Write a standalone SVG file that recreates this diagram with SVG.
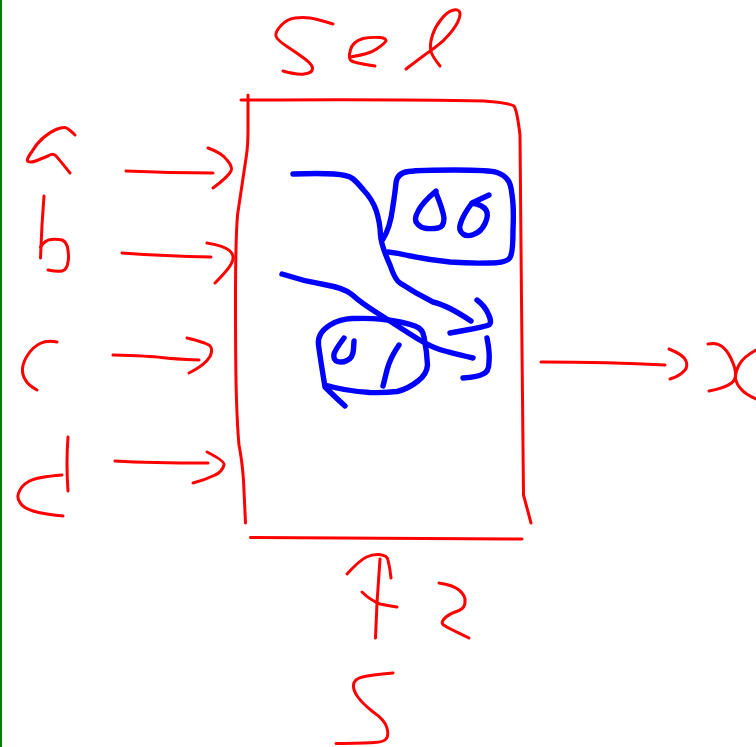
<svg xmlns="http://www.w3.org/2000/svg" width="756" height="747" viewBox="0 0 756 747">
<style>
path{fill:none;stroke-linecap:round;stroke-linejoin:round}
.r{stroke:#ff0000;stroke-width:3}
.b{stroke:#0000ff;stroke-width:5.4}
.edge{stroke:#008000;stroke-width:2;stroke-linecap:butt}
</style>
<rect width="756" height="747" fill="#ffffff"/>
<path class="edge" d="M1 0V747"/>
<g id="label-sel" class="r">
<path d="M333 24Q317 19 310 18Q303 17 295 18Q287 19 281 25.500Q275 32 276 36Q277 40 287 46.500Q297 53 305 59Q313 65 312.500 69Q312 73 304 74Q297 75 283 71"/>
<path d="M350 57Q370 54 376.500 49Q384 44 386 41Q386 38 380 37.500Q370 37 363 38.500Q352 42 350.500 50Q348 58 351 60.500Q354 63 375 66"/>
<path d="M406 69Q427 53 435 47.500Q443 42 450 33.500Q457 25 459 19Q461 13 459 11Q457 9 452 10.500Q447 12 441 19.500Q435 27 432.500 35Q430 43 430.500 49Q431 55 440 66"/>
</g>
<g id="node-box" class="r">
<path d="M241 100Q400 99 484 101Q510 103 514 106Q517 110 520 135L521.500 300L523.500 495L531 523"/>
<path d="M248 95L248 130Q248 145 246.500 155L237.500 215Q235.500 240 235.500 300Q235.500 370 236.500 400Q237.500 430 239 445Q242 460 243.500 480L245.500 523"/>
<path d="M250.500 537.500L522 539"/>
</g>
<g id="label-a" class="r"><path d="M75 135Q68 128 65 127.500Q62 127 56 129.500Q50 132 43.500 137.500Q37 143 32 151.500Q25 161 28.500 161.500Q31 163 37 160.500Q43 158 48 156Q53 153 55.500 155.500Q58 158 70 173"/></g>
<g id="label-b" class="r"><path d="M44 196L42 225L40.500 258"/><path d="M40.500 247Q45 240 51 239.500Q57 239 62 240Q67 242 68 250Q69 258 68 262Q67 270 62 271Q58 272 48 270"/></g>
<g id="label-c" class="r"><path d="M57 342Q47 340 40 343.500Q33 347 28 354.500Q23 362 22.500 368.500Q22 375 25.500 380Q28 385 37 390"/></g>
<g id="label-d" class="r"><path d="M68 437Q66 463 68 491"/><path d="M62 475Q37 477 29.500 481Q22 485 19.500 491Q16 497 20 502.500Q23 508 33 511Q43 514 63 516"/></g>
<g id="node-logic" class="b">
<path d="M293 174Q320 173 334 174Q348 175 352.500 178.500Q357 182 363.500 190Q372 199 376 210Q380 222 380.500 235Q381 245 390 265Q395 280 400 283Q415 293 433 302Q447 305 471 321"/>
<path d="M383 239Q390 228 392.500 209Q395 193 396 183Q397 173 408.500 171.500Q420 170 455 170Q490 170 497 172.500Q504 175 507 179Q511 183 512 195Q514 207 513 230Q513 253 510 257.500Q507 263 488.500 263Q470 263.500 450 262Q430 260 408 255.500Q398 253 388 252"/>
<path d="M436 191Q422 203 418.500 210.500Q413 220 417.500 224Q421 228 426.500 228.500Q433 229 438 228Q444 227 444 218Q443 210 436 193"/>
<path d="M489 195L472 203Q483 205 486 210Q489 215 485 223.500Q481 232 473.500 234.500Q467 237 463 234Q458 230 460.500 223.500Q463 215 472 203"/>
<path d="M477 300Q485 306 488.500 314.500Q493 324 487.500 325.500Q483 327 466.500 330Q450 333 450 333"/>
<path d="M282 274Q303 281 324 284.500Q345 288 352.500 295Q360 302 376.500 312.500Q393 323 410 334Q427 345 437 348.500Q447 352 473 358"/>
<path d="M345 406Q333 395 325 387Q321 363 318.500 345Q317 333 330 325Q340 319 352 318.500Q370 318 380 319Q405 322 415 326Q423 329 424 337Q427 352 427.500 365Q427 374 418 381Q408 389 397 391.500Q385 393 370 392.500Q345 391 325 385"/>
<path d="M344 338Q335 350 334 354Q333 360 337.500 361.500Q342 363 347 360.500Q353 358 353.500 349Q354 341 354 341"/>
<path d="M399 345Q390 358 387 370Q385 378 383 386"/>
<path d="M487 338Q490 353 489 362Q489 372 483 374Q478 377 463 378"/>
</g>
<g id="connectors" class="r">
<path d="M126 171Q170 173 213 173"/><path d="M208 148Q222 153 227 160Q233 167 231 171Q228 177 213 188"/>
<path d="M122 253Q165 256 211 257"/><path d="M207 243Q225 246 230 251Q235 256 232 262Q230 268 215 283"/>
<path d="M113 355Q150 356 161.500 357.500Q173 359 199 360"/><path d="M187 338Q208 343 210.500 346.500Q213 350 210 356.500Q205 365 189 373"/>
<path d="M115 461Q150 463 208 463"/><path d="M207 452Q225 461 224 465Q222 472 215 475Q205 480 193 483"/>
<path d="M541 362Q610 362 665 365"/><path d="M669 349Q684 355 686 361Q688 366 685 370Q680 376 670 379"/>
</g>
<g id="label-x" class="r">
<path d="M708 344Q717 342 722 346.500Q727 350 731 358.500Q735 367 735.500 372.500Q736 380 731.500 383Q725 388 709 391"/>
<path d="M756 350Q743 357 739 365Q735 373 735.500 379Q737 385 741 389Q745 394 756 399"/>
</g>
<g id="label-f2" class="r">
<path d="M347 574Q360 560 366.500 557Q373 554 379 554.500Q387 555 388 560Q390 568 391 578"/>
<path d="M380 559L377 603L375.500 638"/>
<path d="M362 592Q370 600 380 604Q390 606 397 607"/>
<path d="M439 583Q453 585 459 590Q466 596 465 602Q465 608 459 610.500Q451 613 446 617Q440 622 443.500 625Q448 628 469 638"/>
</g>
<g id="label-5" class="r"><path d="M393 673Q370 675 362.500 677Q354 679 353.500 685Q353 690 357.500 696.500Q362 703 372.500 711.500Q385 720 387 728Q389 736 386 739Q384 742 374 742.500Q363 743 336 743.500"/></g>
</svg>
